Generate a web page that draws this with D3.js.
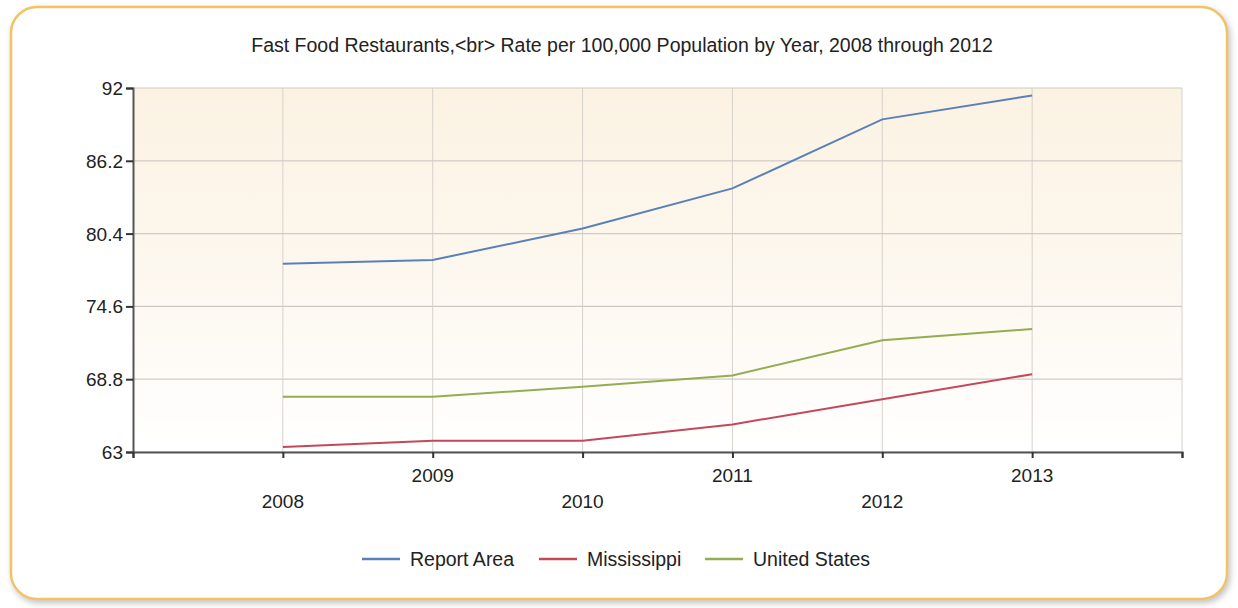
<!DOCTYPE html>
<html><head><meta charset="utf-8">
<script src="https://cdn.jsdelivr.net/npm/d3@7"></script>
<style>
html,body{margin:0;padding:0;background:#fff;}
svg{display:block;font-family:"Liberation Sans",Arial,sans-serif;}
</style></head>
<body>
<svg id="chart" width="1238" height="608"></svg>
<script>
const years = [2008, 2009, 2010, 2011, 2012, 2013];
const reportArea = [78.0, 78.3, 80.8, 84.0, 89.5, 91.4];
const mississippi = [63.4, 63.9, 63.9, 65.2, 67.2, 69.2];
const unitedStates = [67.4, 67.4, 68.2, 69.1, 71.9, 72.8];
const yTicks = [63, 68.8, 74.6, 80.4, 86.2, 92];
const seriesNames = ["Report Area", "Mississippi", "United States"];
const seriesColors = ["#5a80b8", "#c4485c", "#93ad50"];
const title = "Fast Food Restaurants,<br> Rate per 100,000 Population by Year, 2008 through 2012";

const series = [reportArea, mississippi, unitedStates];
const svg = d3.select("#chart");
const defs = svg.append("defs");

const sh = defs.append("filter").attr("id","shadow").attr("x","-5%").attr("y","-5%").attr("width","110%").attr("height","115%");
sh.append("feDropShadow").attr("dx",2).attr("dy",3).attr("stdDeviation",3).attr("flood-color","#999").attr("flood-opacity",0.6);

const bg = defs.append("linearGradient").attr("id","plotbg").attr("x1",0).attr("y1",0).attr("x2",0).attr("y2",1);
bg.append("stop").attr("offset","0%").attr("stop-color","#fbf2e2");
bg.append("stop").attr("offset","55%").attr("stop-color","#fdf8f0");
bg.append("stop").attr("offset","100%").attr("stop-color","#ffffff");

// frame
svg.append("rect").attr("x",11).attr("y",7).attr("width",1216).attr("height",592)
  .attr("rx",26).attr("ry",26).attr("fill","#fff").attr("stroke","#f3c265").attr("stroke-width",2.5)
  .attr("filter","url(#shadow)");

const L = 133, R = 1182, T = 88, B = 452;
const x = d3.scaleLinear().domain([2007, 2014]).range([L, R]);
const y = d3.scaleLinear().domain([63, 92]).range([B, T]);

svg.append("rect").attr("x",L).attr("y",T).attr("width",R-L).attr("height",B-T).attr("fill","url(#plotbg)");

// grid
const gx = d3.range(2008, 2015);
svg.append("g").selectAll("line").data(gx).join("line")
  .attr("x1",d=>x(d)).attr("x2",d=>x(d)).attr("y1",T).attr("y2",B)
  .attr("stroke","#d6d2cc").attr("stroke-width",1);
svg.append("g").selectAll("line").data(yTicks).join("line")
  .attr("x1",L).attr("x2",R).attr("y1",d=>y(d)).attr("y2",d=>y(d))
  .attr("stroke","#cfcbc4").attr("stroke-width",1.2);

// axes
const yAxis = d3.axisLeft(y).tickValues(yTicks).tickSize(7).tickPadding(3).tickFormat(d=>String(d));
const yg = svg.append("g").attr("transform",`translate(${L},0)`).call(yAxis);
yg.select(".domain").attr("stroke","#555").attr("stroke-width",2);
yg.selectAll(".tick line").attr("stroke","#333").attr("stroke-width",2);
yg.selectAll("text").attr("font-size",19).attr("fill","#222").attr("dy","0.34em");

const xAxis = d3.axisBottom(x).tickValues(d3.range(2007, 2015)).tickSize(6).tickFormat("");
const xg = svg.append("g").attr("transform",`translate(0,${B})`).call(xAxis);
xg.select(".domain").attr("stroke","#555").attr("stroke-width",2);
xg.selectAll(".tick line").attr("stroke","#333").attr("stroke-width",2);

svg.append("g").selectAll("text").data(years).join("text")
  .attr("x",d=>x(d)).attr("y",(d,i)=> i%2===0 ? 508 : 482)
  .attr("text-anchor","middle").attr("font-size",19).attr("fill","#222")
  .text(d=>d);

// lines
const line = d3.line().x((d,i)=>x(years[i])).y(d=>y(d));
series.forEach((s,k)=>{
  svg.append("path").datum(s).attr("d",line).attr("fill","none")
    .attr("stroke",seriesColors[k]).attr("stroke-width",2);
});

// title
svg.append("text").attr("x",622).attr("y",52).attr("text-anchor","middle")
  .attr("font-size",19.5).attr("fill","#222").text(title);

// legend
const legX = [362, 539, 705];
const lg = svg.append("g");
seriesNames.forEach((n,k)=>{
  lg.append("line").attr("x1",legX[k]).attr("x2",legX[k]+38).attr("y1",559).attr("y2",559)
    .attr("stroke",seriesColors[k]).attr("stroke-width",2.5);
  lg.append("text").attr("x",legX[k]+48).attr("y",566).attr("font-size",19.5).attr("fill","#222").text(n);
});
</script>
</body></html>
